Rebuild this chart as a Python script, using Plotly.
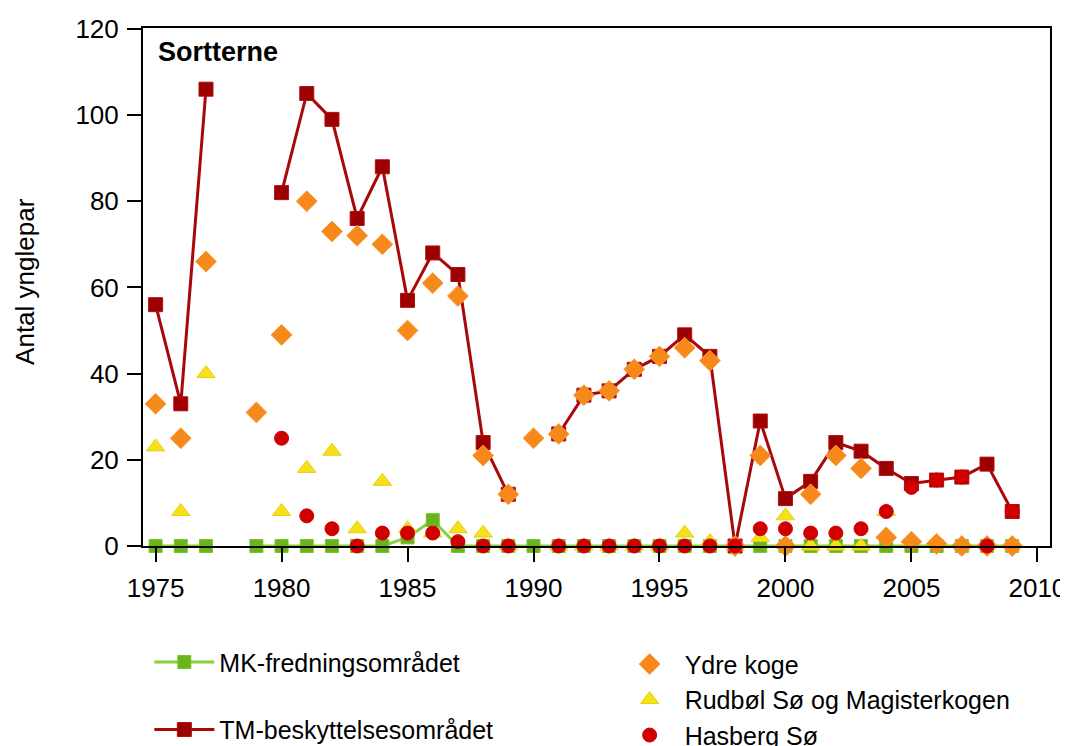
import plotly.graph_objects as go

years = list(range(1975, 2010))
N = None
mk = [0, 0, 0, N, 0, 0, 0, 0, 0, 0, 2, 6, 0, 0, 0, 0, 0, 0, 0, 0, 0, 0, 0, 0, 0, 0, 0, 0, 0, 0, 0, 0, 0, 0, 0]
tm = [56, 33, 106, N, N, 82, 105, 99, 76, 88, 57, 68, 63, 24, 12, N, 26, 35, 36, 41, 44, 49, 44, 0, 29, 11, 15, 24, 22, 18, 14.5, 15.3, 16, 19, 8]
ydre = [33, 25, 66, N, 31, 49, 80, 73, 72, 70, 50, 61, 58, 21, 12, 25, 26, 35, 36, 41, 44, 46, 43, 0, 21, 0, 12, 21, 18, 2, 1, 0.5, 0, 0, 0]
rudbol = [23, 8, 40, N, N, 8, 18, 22, 4, 15, 4, 3, 4, 3, 0, N, 0, 0, 0, 0, 0, 3, 1, 0, 2, 7, 0, 0, 0, 8, N, N, N, N, N]
hasberg = [N, N, N, N, N, 25, 7, 4, 0, 3, 3, 3, 1, 0, 0, N, 0, 0, 0, 0, 0, 0, 0, 0, 4, 4, 3, 3, 4, 8, 13.6, 15.3, 16, 0, 8]
x_ticks = [1975, 1980, 1985, 1990, 1995, 2000, 2005, 2010]
y_ticks = [0, 20, 40, 60, 80, 100, 120]

FONT = "Liberation Sans, Arial, sans-serif"

fig = go.Figure()
fig.add_trace(go.Scatter(x=years, y=mk, name="MK-fredningsområdet", mode="lines+markers",
                         line=dict(color="#8ccf3c", width=3),
                         marker=dict(symbol="square", size=13, color="#6ab51e", line=dict(color="#7cc22a", width=1)),
                         cliponaxis=False, legend="legend", legendgroup="a", legendrank=1))
fig.add_trace(go.Scatter(x=years, y=tm, name="TM-beskyttelsesområdet", mode="lines+markers",
                         line=dict(color="#a80808", width=3),
                         marker=dict(symbol="square", size=14, color="#9c0000", line=dict(color="#b01010", width=1)),
                         cliponaxis=False, legend="legend", legendgroup="b", legendrank=2))
fig.add_trace(go.Scatter(x=years, y=rudbol, name="Rudbøl Sø og Magisterkogen", mode="markers",
                         marker=dict(symbol="triangle-up", size=16, color="#f5e11a", line=dict(color="#e8cf10", width=1)),
                         cliponaxis=False, legend="legend2", legendgroup="d", legendrank=4))
fig.add_trace(go.Scatter(x=years, y=ydre, name="Ydre koge", mode="markers",
                         marker=dict(symbol="diamond", size=16, color="#f7891a", line=dict(color="#f59a3a", width=1)),
                         cliponaxis=False, legend="legend2", legendgroup="c", legendrank=3))
fig.add_trace(go.Scatter(x=years, y=hasberg, name="Hasberg Sø", mode="markers",
                         marker=dict(symbol="circle", size=14, color="#d10000", line=dict(color="#d10000", width=1)),
                         cliponaxis=False, legend="legend2", legendgroup="e", legendrank=5))

axis_common = dict(showline=True, linecolor="black", linewidth=2, mirror=True,
                   ticks="outside", ticklen=14, tickwidth=2, tickcolor="black",
                   showgrid=False, zeroline=False,
                   tickfont=dict(family=FONT, size=26, color="black"))

fig.update_layout(
    width=1068, height=746,
    margin=dict(l=135, r=26, t=20, b=208, autoexpand=False),
    paper_bgcolor="white", plot_bgcolor="white",
    font=dict(family=FONT, size=25, color="black"),
    xaxis=dict(range=[1974.5, 2010.5], tickmode="array", tickvals=x_ticks, ticklabelstandoff=4, **axis_common),
    yaxis=dict(range=[0, 120.2], tickmode="array", tickvals=y_ticks, ticklabelstandoff=3, **axis_common),
    legend=dict(x=0.007, y=-0.18, xanchor="left", yanchor="top", tracegroupgap=32,
                font=dict(family=FONT, size=25, color="black"), itemwidth=60, bgcolor="rgba(0,0,0,0)"),
    legend2=dict(x=0.52, y=-0.184, xanchor="left", yanchor="top", tracegroupgap=0,
                 font=dict(family=FONT, size=25, color="black"), itemwidth=60, bgcolor="rgba(0,0,0,0)"),
    showlegend=True,
    annotations=[
        dict(text="<b>Sortterne</b>", xref="paper", yref="paper", x=0.014, y=0.954,
             xanchor="left", yanchor="middle", showarrow=False, font=dict(family=FONT, size=27, color="black")),
        dict(text="Antal ynglepar", xref="paper", yref="paper", x=-0.13, y=0.51,
             xanchor="center", yanchor="middle", textangle=-90, showarrow=False,
             font=dict(family=FONT, size=26, color="black")),
    ],
)

fig.write_html("out.html")
